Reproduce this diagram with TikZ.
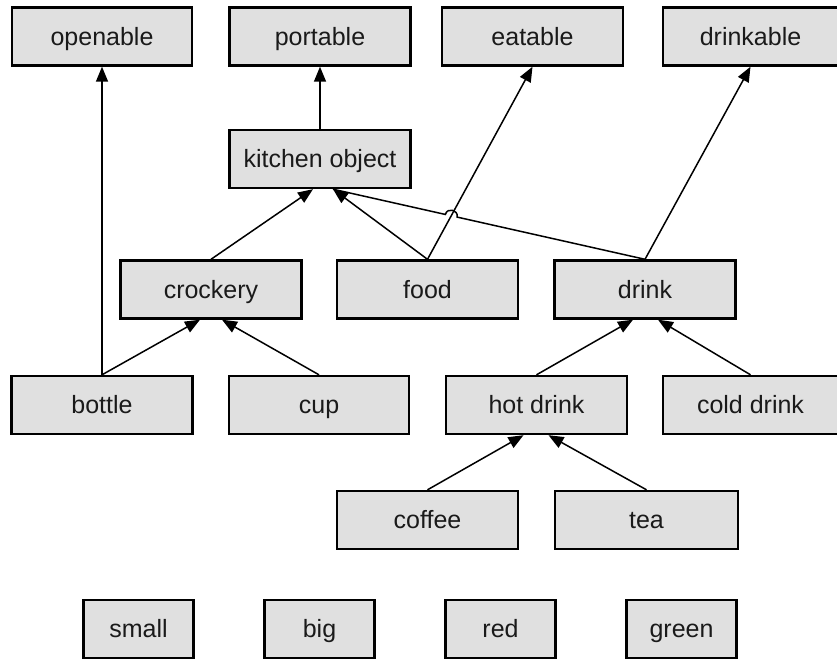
\documentclass[tikz,border=0pt]{standalone}
\usepackage{fontspec}
\setmainfont{Liberation Sans}
\usetikzlibrary{arrows.meta,calc,intersections}
\definecolor{boxfill}{HTML}{E0E0E0}
\definecolor{txt}{HTML}{1A1A1A}
\tikzset{
  box/.style={draw=black, line width=2.4pt, fill=boxfill, inner sep=0pt,
    minimum width=181pt, minimum height=58pt, text=txt,
    text height=22.5pt, text depth=5pt,
    font=\fontsize{25}{29}\selectfont},
  smallbox/.style={box, minimum width=110pt},
  link/.style={line width=1.5pt, -{Triangle[length=15pt,width=12pt]}},
  plain/.style={line width=1.5pt}
}
\begin{document}
\begin{tikzpicture}[x=1pt,y=-1pt]
\useasboundingbox (0,0) rectangle (837,659);
% top row
\node[box, minimum width=180pt] (openable) at (102,36.5) {openable};
\node[box] (portable) at (320,36.5) {portable};
\node[box] (eatable) at (532.5,36.5) {eatable};
\node[box, minimum width=175pt] (drinkable) at (750.5,36.5) {drinkable};
% kitchen object
\node[box] (kitchen) at (320,159) {kitchen object};
% row 3
\node[box] (crockery) at (211,289.5) {crockery};
\node[box] (food) at (427.5,289.5) {food};
\node[box] (drink) at (645,289.5) {drink};
% row 4
\node[box] (bottle) at (102,405) {bottle};
\node[box, minimum width=180pt] (cup) at (319,405) {cup};
\node[box] (hot) at (536.5,405) {hot drink};
\node[box, minimum width=175pt] (cold) at (750.5,405) {cold drink};
% row 5
\node[box] (coffee) at (427.5,520) {coffee};
\node[box, minimum width=183pt] (tea) at (646.5,520) {tea};
% row 6
\node[smallbox] (small) at (138.5,629) {small};
\node[smallbox] (big) at (319.5,629) {big};
\node[smallbox] (red) at (500.5,629) {red};
\node[smallbox] (green) at (681.5,629) {green};
% arrow end points
\coordinate (kL) at ([xshift=-7pt]kitchen.south);
\coordinate (kR) at ([xshift=13pt]kitchen.south);
\coordinate (cL) at ([xshift=-11pt]crockery.south);
\coordinate (cR) at ([xshift=11pt]crockery.south);
\coordinate (dL) at ([xshift=-12pt]drink.south);
\coordinate (dR) at ([xshift=13pt]drink.south);
\coordinate (hL) at ([xshift=-13pt]hot.south);
\coordinate (hR) at ([xshift=12pt]hot.south);
% connectors
\draw[link] (bottle.north) -- (openable.south);
\draw[link] (kitchen.north) -- (portable.south);
\draw[link] (crockery.north) -- (kL);
\draw[link] (food.north) -- (kR);
\draw[link, name path=fe] (food.north) -- (eatable.south);
\draw[link] (drink.north) -- (drinkable.south);
\path[name path=dk] (drink.north) -- (kR);
\path[name intersections={of=fe and dk, by=X}];
\coordinate (hopA) at ($(X)!6pt!(drink.north)$);
\coordinate (hopB) at ($(X)!6pt!(kR)$);
\draw[plain] (drink.north) -- (hopA) to[bend right=90, looseness=1.6] (hopB) -- (kR);
\draw[link] (bottle.north) -- (cL);
\draw[link] (cup.north) -- (cR);
\draw[link] (hot.north) -- (dL);
\draw[link] (cold.north) -- (dR);
\draw[link] (coffee.north) -- (hL);
\draw[link] (tea.north) -- (hR);
\end{tikzpicture}
\end{document}
